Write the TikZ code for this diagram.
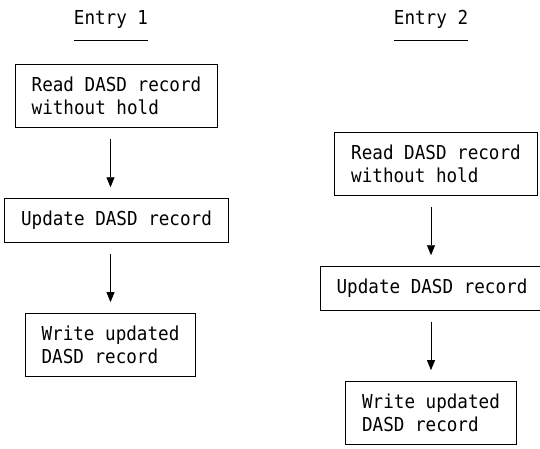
\documentclass[tikz,border=0pt]{standalone}
\usepackage{fontspec}
\newfontfamily\boxfont[FakeStretch=0.917]{DejaVu Sans Mono}
\usetikzlibrary{arrows.meta}
\tikzset{bx/.append style={draw,rectangle,align=left,inner xsep=16.5pt,inner ysep=12.5pt,line width=0.9pt,font=\boxfont\fontsize{19.2}{23}\selectfont}}
\tikzset{hd/.append style={inner sep=0pt,font=\boxfont\fontsize{19.2}{23}\selectfont}}
\tikzset{ar/.append style={line width=0.9pt,-{Triangle[length=10pt,width=8pt]},shorten <=11pt,shorten >=11pt}}

\begin{document}
\begin{tikzpicture}[x=1pt,y=-1pt]
                \useasboundingbox (0,0) rectangle (540,449);
                % entry 1
                \node[hd,anchor=base] (e1) at (111,25) {Entry 1};
                \draw[line width=0.9pt] ([yshift=-15pt]e1.base west) -- ([yshift=-15pt]e1.base east);
                \node[bx] (l1) at (116.5,96) {Read DASD record\\without hold};
                \node[bx] (l2) at (116.5,220.5) {Update DASD record};
                \node[bx] (l3) at (110.5,345) {Write updated\\DASD record};
                \path (l1.south -| l3.north) edge[ar] (l2.north -| l3.north);
                \path (l2.south -| l3.north) edge[ar] (l3.north);
                % entry 2
                \node[hd,anchor=base] (e2) at (431,25) {Entry 2};
                \draw[line width=0.9pt] ([yshift=-15pt]e2.base west) -- ([yshift=-15pt]e2.base east);
                \node[bx] (r1) at (436,164) {Read DASD record\\without hold};
                \node[bx] (r2) at (432,288.5) {Update DASD record};
                \node[bx] (r3) at (431,413) {Write updated\\DASD record};
                \path (r1.south -| r3.north) edge[ar] (r2.north -| r3.north);
                \path (r2.south -| r3.north) edge[ar] (r3.north);
            \end{tikzpicture}
\end{document}
